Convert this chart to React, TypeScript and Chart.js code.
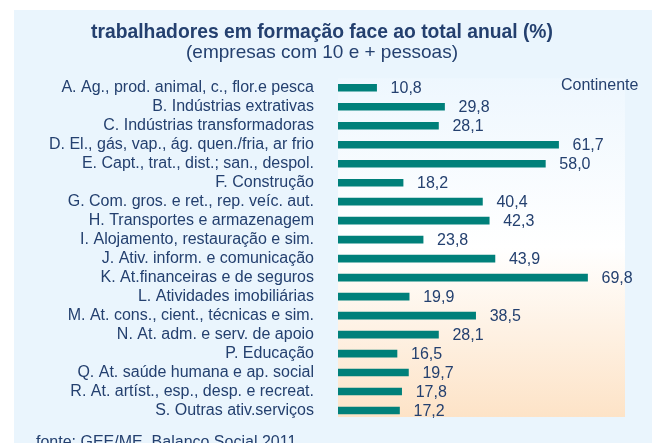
import React, { useEffect, useRef } from "react";
import { Chart, registerables } from "chart.js";

Chart.register(...registerables);

const categories = [
  "A. Ag., prod. animal, c., flor.e pesca",
  "B. Indústrias extrativas",
  "C. Indústrias transformadoras",
  "D. El., gás, vap., ág. quen./fria, ar frio",
  "E. Capt., trat., dist.; san., despol.",
  "F. Construção",
  "G. Com. gros. e ret., rep. veíc. aut.",
  "H. Transportes e armazenagem",
  "I. Alojamento, restauração e sim.",
  "J. Ativ. inform. e comunicação",
  "K. At.financeiras e de seguros",
  "L. Atividades imobiliárias",
  "M. At. cons., cient., técnicas e sim.",
  "N. At. adm. e serv. de apoio",
  "P. Educação",
  "Q. At. saúde humana e ap. social",
  "R. At. artíst., esp., desp. e recreat.",
  "S. Outras ativ.serviços",
];

const values = [10.8, 29.8, 28.1, 61.7, 58.0, 18.2, 40.4, 42.3, 23.8, 43.9, 69.8, 19.9, 38.5, 28.1, 16.5, 19.7, 17.8, 17.2];

const titleText = "trabalhadores em formação face ao total anual (%)";
const subtitleText = "(empresas com 10 e + pessoas)";
const seriesLabel = "Continente";
const sourceText = "fonte: GEE/ME, Balanco Social 2011";

const FONT = "'Liberation Sans', Arial, sans-serif";
const TEXT = "#24406F";
const BAR = "#00807A";

const fmt = (v: number) => v.toFixed(1).replace(".", ",");

const decor = {
  id: "decor",
  beforeDraw(chart: any) {
    const { ctx, chartArea } = chart;
    ctx.save();
    ctx.fillStyle = "#ffffff";
    ctx.fillRect(0, 0, chart.width, chart.height);
    ctx.fillStyle = "#EAF5FD";
    ctx.fillRect(14, 10, 638, chart.height - 10);
    const top = chartArea.top;
    const bottom = chartArea.bottom - 3;
    const g = ctx.createLinearGradient(0, top, 0, bottom);
    g.addColorStop(0, "#EEF7FE");
    g.addColorStop(0.5, "#FFFFFF");
    g.addColorStop(1, "#FDE3C7");
    ctx.fillStyle = g;
    ctx.fillRect(chartArea.left, top, chartArea.right - chartArea.left + 1, bottom - top);
    ctx.restore();
  },
  afterDatasetsDraw(chart: any) {
    const { ctx } = chart;
    const meta = chart.getDatasetMeta(0);
    ctx.save();
    ctx.font = `16px ${FONT}`;
    ctx.fillStyle = TEXT;
    ctx.textAlign = "left";
    ctx.textBaseline = "middle";
    meta.data.forEach((bar: any, i: number) => {
      ctx.fillText(fmt(values[i]), bar.x + 14, bar.y + 1);
    });
    ctx.fillText(seriesLabel, 561, 86);
    ctx.textBaseline = "alphabetic";
    ctx.fillText(sourceText, 36, 447);
    ctx.restore();
  },
};

export default function App() {
  const ref = useRef<HTMLCanvasElement | null>(null);
  useEffect(() => {
    if (!ref.current) return;
    const chart = new Chart(ref.current, {
      type: "bar",
      data: {
        labels: categories,
        datasets: [
          {
            label: seriesLabel,
            data: values,
            backgroundColor: BAR,
            barThickness: 7,
          },
        ],
      },
      options: {
        indexAxis: "y",
        animation: false,
        responsive: true,
        maintainAspectRatio: false,
        layout: { padding: { left: 20, right: 32, top: 10, bottom: 23 } },
        plugins: {
          legend: { display: false },
          tooltip: { enabled: false },
          title: {
            display: true,
            text: titleText,
            color: TEXT,
            font: { family: FONT, size: 19.3, weight: "bold", lineHeight: 1 },
            padding: { top: 13.5, bottom: 0 },
          },
          subtitle: {
            display: true,
            text: subtitleText,
            color: TEXT,
            font: { family: FONT, size: 19, weight: "normal", lineHeight: 1 },
            padding: { top: 0.5, bottom: 16 },
          },
        },
        scales: {
          x: { display: false, min: 0, max: 80 },
          y: {
            grid: { display: false, drawTicks: false },
            border: { display: false },
            ticks: {
              autoSkip: false,
              color: TEXT,
              font: { family: FONT, size: 16 },
              padding: 24,
            },
            afterFit(scale: any) {
              scale.width = 318;
              scale.paddingTop = 0;
              scale.paddingBottom = 0;
            },
          },
        },
      },
      plugins: [decor],
    });
    return () => chart.destroy();
  }, []);
  return (
    <div style={{ position: "absolute", left: 0, top: 0, width: 656, height: 443 }}>
      <canvas ref={ref} />
    </div>
  );
}
